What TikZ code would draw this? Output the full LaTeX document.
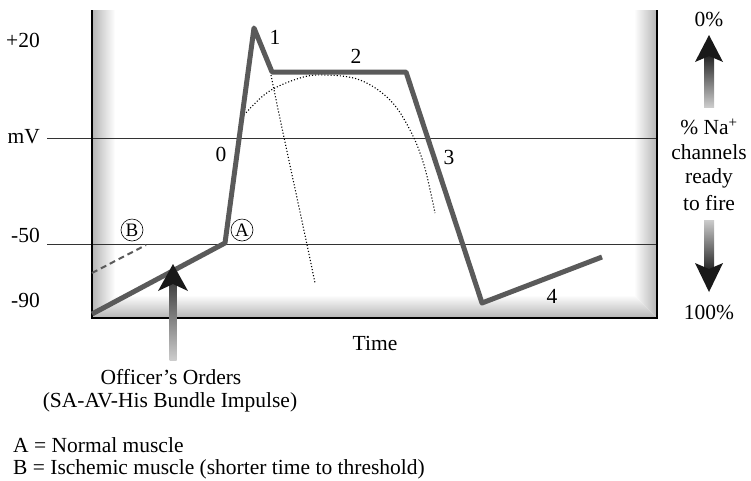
\documentclass[tikz,border=0pt]{standalone}
\usepackage{fontspec}
\setmainfont{Liberation Serif}
\definecolor{curvegray}{HTML}{5A5A5A}
\definecolor{refline}{HTML}{333333}
\definecolor{shadegray}{HTML}{B4B4B4}
\begin{document}
\begin{tikzpicture}[x=1pt,y=-1pt,
  font=\fontsize{21.5}{25}\selectfont,
  lbl/.style={inner sep=0pt},
  apcurve/.style={draw=curvegray,line width=5pt,line join=round,line cap=butt},
  frameline/.style={draw=black,line width=2pt},
  refl/.style={draw=refline,line width=0.9pt},
  dotl/.style={draw=black,line width=1.1pt,dotted},
  circlbl/.style={circle,draw=black,line width=0.6pt,inner sep=0pt,minimum size=22pt,font=\fontsize{19}{21}\selectfont},
  arrhead/.style={fill=black!90},
]
\useasboundingbox (0,0) rectangle (751,480);

% tray shading (mitered strips)
\shade[left color=shadegray,right color=white] (92,10) -- (115,10) -- (115,295) -- (92,318) -- cycle;
\shade[top color=white,bottom color=shadegray] (92,318) -- (115,295) -- (634,295) -- (657,318) -- cycle;
\shade[left color=white,right color=shadegray] (634,10) -- (657,10) -- (657,318) -- (634,295) -- cycle;

% reference lines
\coordinate (mvL) at (47,138);  \coordinate (mvR) at (657,138);
\coordinate (thL) at (47,244);  \coordinate (thR) at (657,244);
\draw[refl] (mvL) -- (mvR);
\draw[refl] (thL) -- (thR);

% frame
\coordinate (fTL) at (92,10); \coordinate (fBL) at (92,318);
\coordinate (fBR) at (657,318); \coordinate (fTR) at (657,10);
\draw[frameline] (fTL) -- (fBL) -- (fBR) -- (fTR);

% axis labels
\node[lbl,anchor=east] (l20) at (40,40) {+20};
\node[lbl,anchor=east] (lmv) at (40,137) {mV};
\node[lbl,anchor=east] (l50) at (40,235) {-50};
\node[lbl,anchor=east] (l90) at (40,300) {-90};
\node[lbl] (ltime) at (375,343) {Time};

% dotted curves
\coordinate (d1a) at (271,75);
\coordinate (d1b) at (315,283);
\draw[dotl] (d1a) .. controls (283,135) and (300,210) .. (d1b);
\draw[dotl] plot[smooth,tension=0.6] coordinates {(244,115) (268,92) (300,78) (325,75) (360,80) (390,100) (410,130) (424,165) (435,213)};

% ischemic dashed
\coordinate (bS) at (92,273);
\coordinate (bE) at (146,245);
\draw[draw=curvegray,line width=2pt,dash pattern=on 6pt off 4pt] (bS) -- (bE);

% action potential
\coordinate (p0) at (92,314);
\coordinate (pA) at (225,243);
\coordinate (pPk) at (254,28);
\coordinate (p1) at (272,72);
\coordinate (p2) at (406,72);
\coordinate (p3) at (482,303);
\coordinate (p4) at (602,257);
\draw[apcurve] (p0) -- (pA) -- (pPk) -- (p1) -- (p2) -- (p3) -- (p4);

% phase labels
\node[lbl] (n1) at (275,37) {1};
\node[lbl] (n2) at (356,56) {2};
\node[lbl] (n0) at (221,154) {0};
\node[lbl] (n3) at (449,157) {3};
\node[lbl] (n4) at (552,296) {4};
\node[circlbl] (cA) at (242,230) {A};
\node[circlbl] (cB) at (132,230) {B};

% officer's orders arrow
\shade[top color=black!75,bottom color=black!20] (169.5,282) rectangle (176.5,360);
\fill[arrhead] (173,264) -- (188,291) -- (173,284) -- (158,291) -- cycle;
\node[lbl] (off1) at (171,377) {Officer’s Orders};
\node[lbl] (off2) at (170,402) {(SA-AV-His Bundle Impulse)};

% right side scale
\node[lbl] (r0) at (709,19) {0\%};
\shade[top color=black!85,bottom color=black!20] (704,56) rectangle (714,107);
\fill[arrhead] (709,35) -- (723,62) -- (709,56) -- (695,62) -- cycle;
\node[lbl] (rt1) at (709,127) {\% Na\textsuperscript{+}};
\node[lbl] (rt2) at (709,152) {channels};
\node[lbl] (rt3) at (709,178) {ready};
\node[lbl] (rt4) at (709,203) {to fire};
\shade[top color=black!20,bottom color=black!85] (704,220) rectangle (714,270);
\fill[arrhead] (709,292) -- (695,263) -- (709,269) -- (723,263) -- cycle;
\node[lbl] (r100) at (709,312) {100\%};

% legend
\node[lbl,anchor=west] (legA) at (13,445) {A = Normal muscle};
\node[lbl,anchor=west] (legB) at (13,469) {B = Ischemic muscle (shorter time to threshold)};
\end{tikzpicture}
\end{document}
